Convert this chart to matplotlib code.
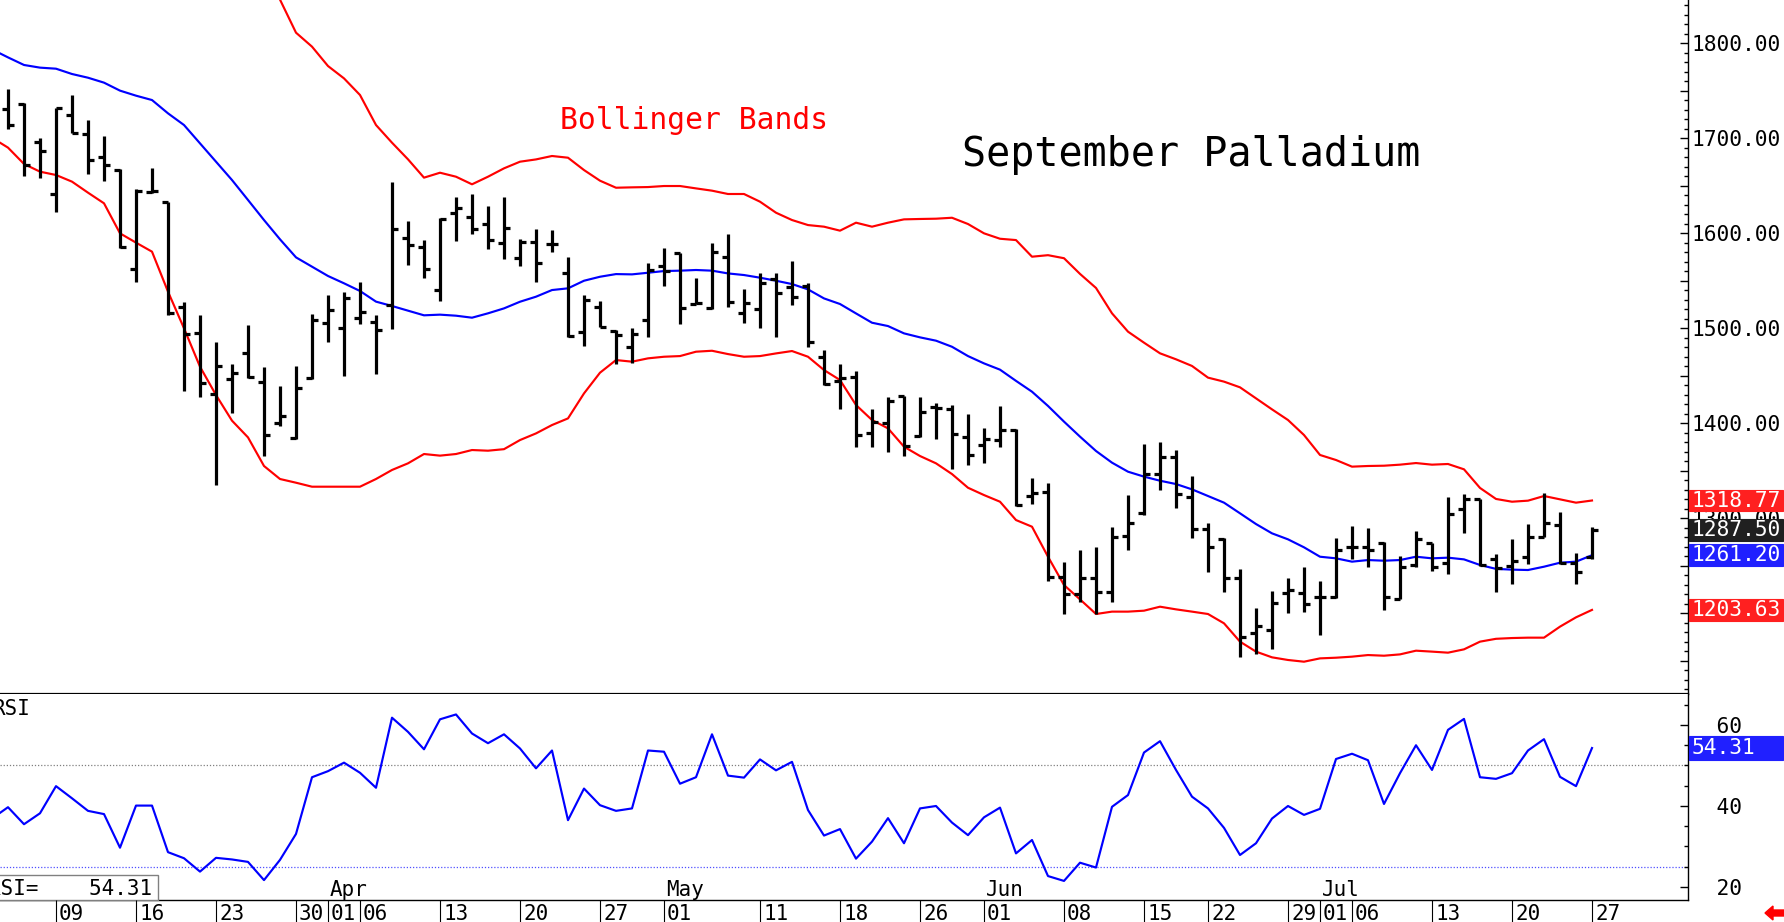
import matplotlib
matplotlib.use("Agg")
import matplotlib.pyplot as plt
import matplotlib.transforms as mtransforms
from matplotlib.patches import Rectangle, Polygon
from matplotlib.ticker import MultipleLocator, FuncFormatter, FixedLocator
import numpy as np
import pandas as pd

plt.rcParams['font.family'] = ['DejaVu Sans Mono']

# trading days Mar 3 .. Jul 27 2026, exchange holidays taken out
holidays = ["2026-04-03", "2026-05-25", "2026-06-19", "2026-07-03"]
dates = pd.bdate_range("2026-03-03", "2026-07-27")
dates = dates[~dates.isin(pd.to_datetime(holidays))]

# daily bars, from Mar 4 (Mar 3 is just off the left edge)
opens = [1730.5, 1736.1, 1696.5, 1641.4, 1724.5, 1704.5, 1680.0, 1666.7, 1562.4, 1643.8,
         1633.3, 1522.8, 1494.7, 1430.9, 1446.8, 1474.4, 1443.8, 1400.0, 1384.2, 1447.3,
         1505.3, 1500.0, 1511.2, 1507.0, 1524.5, 1594.7, 1585.2, 1540.3, 1621.0, 1617.5,
         1609.8, 1590.2, 1574.3, 1590.5, 1588.7, 1557.8, 1495.7, 1522.8, 1497.5, 1480.6,
         1508.7, 1565.6, 1579.6, 1525.6, 1521.0, 1575.4, 1516.4, 1520.0, 1551.5, 1543.8,
         1544.5, 1469.4, 1444.5, 1449.0, 1389.4, 1400.7, 1428.7, 1386.6, 1417.5, 1414.7,
         1385.9, 1377.2, 1382.4, 1392.9, 1323.5, 1328.1, 1237.9, 1220.3, 1237.5, 1222.8,
         1281.4, 1306.0, 1346.3, 1364.9, 1322.1, 1288.4, 1277.9, 1236.8, 1179.6, 1182.5,
         1221.8, 1221.8, 1216.8, 1217.5, 1270.2, 1269.5, 1273.7, 1214.7, 1250.9, 1274.4,
         1252.6, 1309.5, 1320.0, 1256.8, 1249.8, 1259.6, 1280.7, 1293.0, 1253.3, 1259.6]
highs = [1751.6, 1736.8, 1700.0, 1732.3, 1745.6, 1719.3, 1702.4, 1667.4, 1646.3, 1668.4,
         1633.3, 1528.0, 1514.0, 1485.2, 1462.1, 1503.5, 1458.9, 1439.3, 1460.3, 1515.1,
         1535.0, 1537.9, 1548.4, 1514.0, 1654.4, 1613.0, 1593.0, 1615.8, 1638.6, 1641.4,
         1628.8, 1638.6, 1593.6, 1604.5, 1603.4, 1574.7, 1535.0, 1529.1, 1498.2, 1500.0,
         1568.4, 1584.2, 1579.6, 1552.6, 1589.4, 1598.9, 1541.0, 1557.8, 1558.5, 1571.2,
         1547.3, 1477.1, 1462.1, 1455.4, 1414.7, 1428.0, 1429.1, 1428.0, 1421.0, 1419.3,
         1409.8, 1394.7, 1418.2, 1393.6, 1342.1, 1337.5, 1254.4, 1266.7, 1270.2, 1291.2,
         1324.6, 1377.9, 1380.7, 1371.9, 1344.6, 1294.7, 1279.6, 1246.3, 1205.3, 1223.5,
         1236.8, 1248.4, 1234.4, 1279.6, 1291.9, 1289.5, 1275.4, 1260.4, 1287.0, 1274.4,
         1322.8, 1325.3, 1320.0, 1262.1, 1278.2, 1294.0, 1326.3, 1306.3, 1263.2, 1291.2]
lows = [1709.5, 1660.7, 1657.9, 1622.8, 1705.2, 1662.1, 1655.4, 1584.2, 1548.4, 1642.8,
        1514.0, 1434.4, 1427.4, 1335.1, 1410.5, 1447.3, 1366.0, 1397.5, 1383.1, 1446.7,
        1486.0, 1450.2, 1504.5, 1451.9, 1498.9, 1566.7, 1552.6, 1529.1, 1592.3, 1598.9,
        1583.1, 1572.6, 1565.6, 1549.1, 1580.0, 1490.5, 1481.4, 1501.7, 1462.1, 1463.1,
        1490.5, 1544.5, 1504.5, 1525.6, 1520.3, 1522.1, 1505.9, 1499.9, 1491.2, 1524.5,
        1480.6, 1440.3, 1414.7, 1374.7, 1375.4, 1369.4, 1365.6, 1385.2, 1383.5, 1351.6,
        1356.1, 1357.9, 1374.7, 1312.9, 1315.1, 1234.4, 1199.3, 1212.3, 1199.3, 1212.3,
        1266.7, 1303.5, 1329.8, 1310.5, 1279.0, 1243.2, 1222.8, 1153.7, 1157.2, 1162.1,
        1200.0, 1201.1, 1177.2, 1215.8, 1256.8, 1248.4, 1203.5, 1214.7, 1249.1, 1244.9,
        1241.4, 1284.9, 1249.8, 1222.8, 1230.5, 1251.6, 1280.7, 1251.9, 1230.5, 1256.8]
closes = [1713.7, 1671.9, 1686.7, 1732.3, 1705.2, 1677.2, 1671.9, 1585.9, 1644.9, 1644.9,
          1515.8, 1493.7, 1442.1, 1460.3, 1452.6, 1448.4, 1387.7, 1407.7, 1436.8, 1508.8,
          1519.3, 1532.3, 1516.8, 1498.2, 1604.2, 1587.7, 1562.1, 1614.7, 1626.3, 1604.2,
          1593.0, 1605.3, 1591.2, 1568.4, 1588.7, 1491.9, 1529.8, 1501.7, 1492.9, 1493.6,
          1561.4, 1560.3, 1521.0, 1527.0, 1580.0, 1528.0, 1527.0, 1548.0, 1536.8, 1533.3,
          1485.2, 1441.4, 1448.0, 1387.7, 1401.7, 1423.8, 1376.1, 1412.2, 1415.8, 1388.4,
          1366.6, 1383.1, 1392.9, 1314.0, 1326.3, 1238.6, 1220.3, 1236.8, 1222.8, 1280.7,
          1294.7, 1346.3, 1364.9, 1325.3, 1288.4, 1269.5, 1236.8, 1174.7, 1186.7, 1211.2,
          1224.6, 1209.8, 1216.8, 1266.7, 1270.2, 1266.7, 1217.5, 1248.4, 1277.9, 1249.1,
          1304.6, 1320.0, 1250.9, 1248.1, 1255.1, 1280.0, 1294.7, 1253.3, 1243.9, 1287.5]

# bollinger bands + RSI, from Mar 3
bb_up = [1886.6,
         1880.2, 1881.4, 1883.9, 1885.2, 1881.0, 1884.8, 1885.6, 1900.4, 1899.6, 1899.9,
         1914.0, 1928.0, 1929.8, 1921.0, 1909.4, 1885.0, 1872.9, 1846.0, 1811.2, 1796.5,
         1776.1, 1763.1, 1745.6, 1714.0, 1695.4, 1677.9, 1658.6, 1663.8, 1659.6, 1651.6,
         1659.6, 1668.4, 1675.4, 1677.8, 1681.4, 1679.6, 1666.6, 1655.4, 1648.0, 1648.4,
         1648.7, 1649.8, 1649.8, 1647.3, 1644.9, 1641.4, 1641.4, 1633.3, 1621.7, 1614.0,
         1608.7, 1607.0, 1602.8, 1611.2, 1607.0, 1611.2, 1614.7, 1615.1, 1615.4, 1616.4,
         1609.8, 1600.0, 1594.3, 1592.9, 1575.4, 1577.0, 1573.8, 1557.3, 1542.5, 1515.8,
         1496.5, 1484.9, 1473.7, 1467.4, 1460.4, 1448.1, 1443.9, 1437.9, 1426.3, 1414.7,
         1403.5, 1387.7, 1366.7, 1361.4, 1354.4, 1355.1, 1355.4, 1356.5, 1358.2, 1356.5,
         1357.2, 1351.6, 1332.0, 1320.4, 1317.5, 1318.6, 1323.5, 1320.0, 1316.5, 1318.77]
bb_mid = [1793.6,
          1785.2, 1777.2, 1774.4, 1773.3, 1767.7, 1763.8, 1758.6, 1750.2, 1744.9, 1740.3,
          1726.3, 1714.0, 1694.7, 1675.4, 1656.1, 1635.1, 1614.0, 1593.7, 1574.7, 1564.9,
          1555.1, 1547.4, 1539.3, 1528.1, 1523.5, 1518.6, 1513.7, 1514.4, 1513.3, 1511.2,
          1515.8, 1521.0, 1528.0, 1533.3, 1540.3, 1542.1, 1550.1, 1554.3, 1557.1, 1556.8,
          1558.5, 1560.3, 1560.7, 1561.4, 1560.7, 1557.8, 1556.1, 1553.3, 1550.1, 1546.6,
          1541.0, 1531.5, 1525.6, 1515.7, 1505.9, 1502.4, 1494.7, 1490.5, 1487.0, 1480.6,
          1470.8, 1463.1, 1456.5, 1444.7, 1433.3, 1418.3, 1401.8, 1386.0, 1370.9, 1358.6,
          1349.1, 1343.9, 1339.6, 1336.1, 1330.5, 1323.5, 1316.5, 1305.3, 1294.0, 1284.2,
          1277.9, 1269.5, 1259.6, 1257.9, 1254.4, 1256.1, 1255.4, 1256.1, 1259.6, 1257.9,
          1258.6, 1256.8, 1250.9, 1246.8, 1246.0, 1245.6, 1249.1, 1253.3, 1254.4, 1261.20]
bb_lo = [1700.6,
         1690.2, 1673.0, 1664.9, 1661.4, 1654.4, 1642.8, 1631.6, 1600.0, 1590.2, 1580.7,
         1538.6, 1500.0, 1459.6, 1429.8, 1402.8, 1385.2, 1355.1, 1341.4, 1337.5, 1333.3,
         1333.3, 1333.3, 1333.3, 1341.4, 1350.9, 1357.9, 1367.7, 1366.0, 1367.7, 1371.9,
         1371.2, 1372.8, 1382.4, 1389.4, 1398.2, 1405.2, 1431.5, 1453.3, 1466.6, 1464.9,
         1468.4, 1470.1, 1470.8, 1475.4, 1476.4, 1472.9, 1470.1, 1470.8, 1473.6, 1476.1,
         1470.1, 1456.1, 1445.6, 1419.3, 1403.5, 1394.7, 1375.4, 1365.6, 1357.9, 1346.6,
         1332.2, 1324.5, 1317.5, 1298.2, 1291.2, 1259.6, 1229.8, 1214.7, 1199.3, 1201.8,
         1201.8, 1202.8, 1207.0, 1204.2, 1201.8, 1199.3, 1189.5, 1170.2, 1159.7, 1153.7,
         1150.9, 1149.1, 1152.6, 1153.3, 1154.4, 1156.1, 1155.4, 1156.8, 1160.7, 1159.7,
         1158.6, 1162.1, 1170.2, 1173.2, 1174.0, 1174.4, 1174.4, 1186.0, 1195.8, 1203.63]
rsi = [36.9,
       39.7, 35.5, 38.2, 44.9, 41.9, 38.8, 38.0, 29.7, 40.1, 40.1,
       28.6, 27.1, 23.8, 27.2, 26.8, 26.2, 21.7, 26.7, 33.1, 47.1,
       48.6, 50.7, 48.2, 44.5, 61.8, 58.3, 54.0, 61.4, 62.6, 57.9,
       55.5, 57.7, 54.2, 49.3, 53.7, 36.5, 44.3, 40.2, 38.8, 39.4,
       53.7, 53.4, 45.5, 47.1, 57.7, 47.5, 47.0, 51.5, 48.8, 50.9,
       39.0, 32.7, 34.3, 27.0, 31.2, 37.0, 30.8, 39.4, 40.0, 35.9,
       32.8, 37.2, 39.6, 28.3, 31.6, 22.7, 21.5, 26.0, 24.8, 39.8,
       42.7, 53.2, 56.0, 48.9, 42.3, 39.4, 34.6, 27.9, 30.8, 36.9,
       40.0, 37.8, 39.3, 51.6, 52.9, 51.3, 40.5, 48.1, 55.0, 48.9,
       58.8, 61.5, 47.1, 46.7, 48.1, 53.7, 56.5, 47.2, 44.9, 54.31]

day_ticks = ["2026-03-09", "2026-03-16", "2026-03-23", "2026-03-30", "2026-04-01",
             "2026-04-06", "2026-04-13", "2026-04-20", "2026-04-27", "2026-05-01",
             "2026-05-11", "2026-05-18", "2026-05-26", "2026-06-01", "2026-06-08",
             "2026-06-15", "2026-06-22", "2026-06-29", "2026-07-01", "2026-07-06",
             "2026-07-13", "2026-07-20", "2026-07-27"]
month_ticks = ["2026-04-01", "2026-05-01", "2026-06-01", "2026-07-01"]

title = "September Palladium"
band_label = "Bollinger Bands"

x = np.arange(len(dates))
xb = x[1:]
pos = {d.strftime("%Y-%m-%d"): i for i, d in enumerate(dates)}

W, H = 1784, 922
fig = plt.figure(figsize=(W / 100, H / 100), dpi=100)
ax = fig.add_axes([0, 1 - 694 / H, 1688 / W, 694 / H])
ax_r = fig.add_axes([0, 1 - 900 / H, 1688 / W, 206 / H], sharex=ax)
ax_d = fig.add_axes([0, 0, 1688 / W, 22 / H], sharex=ax)

ax.set_xlim(0.5, 106)
ax.set_ylim(1115.1, 1845.6)
ax_r.set_ylim(16.79, 67.65)
ax_d.set_ylim(0, 1)

# price panel
ax.plot(x, bb_up, color="#ff0000", lw=1.55, zorder=2)
ax.plot(x, bb_lo, color="#ff0000", lw=1.55, zorder=2)
ax.plot(x, bb_mid, color="#0000ff", lw=1.55, zorder=2)
tk = 0.375
ax.vlines(xb, lows, highs, colors="k", lw=2.3, zorder=3)
ax.hlines(opens, xb - tk, xb, colors="k", lw=2.3, zorder=3)
ax.hlines(closes, xb, xb + tk, colors="k", lw=2.3, zorder=3)

ax.text(560 / 1688, 1 - 129.3 / 694, band_label, transform=ax.transAxes,
        color="#ff0000", fontsize=21.3, va="baseline", ha="left")
ax.text(962 / 1688, 1 - 166 / 694, title, transform=ax.transAxes,
        color="black", fontsize=28.8, va="baseline", ha="left")

for a in (ax, ax_r):
    a.spines[["left", "top"]].set_visible(False)
    a.spines["right"].set_linewidth(1.0)
    a.yaxis.tick_right()
    a.tick_params(axis="x", bottom=False, labelbottom=False)
    a.tick_params(axis="y", which="major", direction="in", length=6, width=1,
                  pad=2.5, labelsize=15.3, colors="black")
    a.tick_params(axis="y", which="minor", direction="in", length=3, width=1)
ax.spines["bottom"].set_linewidth(1.6)
ax_r.spines["bottom"].set_linewidth(1.0)

ax.yaxis.set_major_locator(MultipleLocator(50))
ax.yaxis.set_minor_locator(MultipleLocator(10))
ax.yaxis.set_major_formatter(FuncFormatter(lambda v, _: f"{v:.2f}" if v % 100 == 0 else ""))

ax_r.yaxis.set_major_locator(FixedLocator([20, 40, 60]))
ax_r.yaxis.set_minor_locator(MultipleLocator(5))
ax_r.yaxis.set_major_formatter(FuncFormatter(lambda v, _: f"{v:4.0f}"))


def tag(a, val, txt, color, h):
    tr = mtransforms.blended_transform_factory(a.transAxes, a.transData)
    a.add_patch(Rectangle((1.0006, val - h / 2), 94 / 1688, h, transform=tr,
                          facecolor=color, edgecolor=color, lw=0.8,
                          clip_on=False, zorder=6))
    a.text(1.0022, val, txt, transform=tr, color="white", fontsize=15.3,
           va="center", ha="left", clip_on=False, zorder=7)


tag(ax, bb_up[-1], f"{bb_up[-1]:.2f}", "#ff2020", 22.6)
tag(ax, closes[-1], f"{closes[-1]:.2f}", "#202020", 22.6)
tag(ax, bb_mid[-1], f"{bb_mid[-1]:.2f}", "#2020ff", 22.6)
tag(ax, bb_lo[-1], f"{bb_lo[-1]:.2f}", "#ff2020", 22.6)

# RSI panel
ax_r.plot(x, rsi, color="#0000ff", lw=1.55, zorder=3)
ax_r.axhline(50, color="#808080", lw=0.9, ls=(0, (1, 1.5)), zorder=1)
ax_r.axhline(25, color="#5050ff", lw=0.9, ls=(0, (1, 1.5)), zorder=1)
tag(ax_r, rsi[-1], f"{rsi[-1]:.2f}", "#2020ff", 5.7)

trr = mtransforms.blended_transform_factory(ax_r.transAxes, ax_r.transData)
ax_r.text(-8 / 1688, 62.5, "RSI", transform=trr, fontsize=15, va="baseline",
          ha="left", clip_on=False)
ax_r.add_patch(Rectangle((-0.01, 16.79), 0.1036, 22.96 - 16.79, transform=trr,
                         facecolor="white", edgecolor="#808080", lw=1,
                         clip_on=False, zorder=4))
ax_r.text(-11.8 / 1688, 18.0, f"RSI=    {rsi[-1]:.2f}", transform=trr, fontsize=15,
          va="baseline", ha="left", clip_on=False, zorder=5)

for m in month_ticks:
    k = pos[m]
    ax_r.text(k + 0.12, 17.8, dates[k].strftime("%b"), fontsize=15,
              va="baseline", ha="left")

# date strip
ax_d.axis("off")
for d in day_ticks:
    k = pos[d]
    ax_d.vlines(k, 0, 1, colors="k", lw=0.8)
    ax_d.text(k + 0.19, 0.07, dates[k].strftime("%d"), fontsize=15,
              va="baseline", ha="left")

# little red arrow bottom right
arrow = [(1765, H - 913), (1773, H - 906), (1773, H - 910), (1784, H - 910),
         (1784, H - 916), (1773, H - 916), (1773, H - 920)]
fig.add_artist(Polygon(arrow, closed=True, color="red",
                       transform=mtransforms.IdentityTransform()))

fig.savefig("out.png", dpi=100)
